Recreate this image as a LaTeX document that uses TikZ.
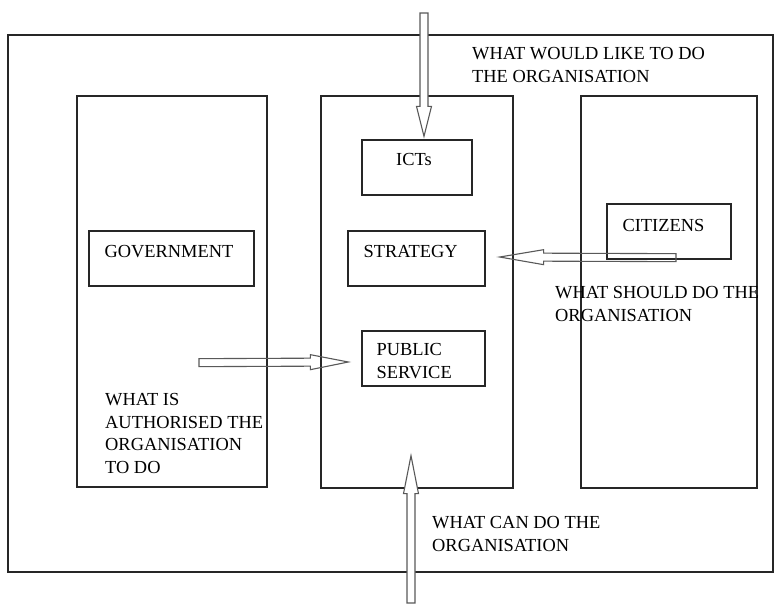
\documentclass[tikz,border=0pt]{standalone}
\usepackage{fontspec}
\setmainfont{Liberation Serif}
\usetikzlibrary{calc}
\tikzset{
  box/.style={draw=black!85, line width=1.3pt, inner sep=0pt},
  lbl/.style={inner sep=0pt, anchor=north west, align=left, font=\fontsize{18.4}{22.8}\selectfont},
  harrowline/.style={draw=black!65, line width=1.1pt, line join=miter},
}
\newcommand{\hollowarrow}[4]{%
  \coordinate (hb) at ($(#3)!#4!(#2)$);
  \draw[harrowline,#1] ($(#2)!4pt!90:(#3)$) -- ($(hb)!4pt!90:(#3)$) -- ($(hb)!7.5pt!90:(#3)$) -- (#3)
    -- ($(hb)!7.5pt!-90:(#3)$) -- ($(hb)!4pt!-90:(#3)$) -- ($(#2)!4pt!-90:(#3)$) -- cycle;
}
\begin{document}
\begin{tikzpicture}[x=1pt,y=-1pt]
\useasboundingbox (0,0) rectangle (774,603);
% frames
\node[box, minimum width=765pt, minimum height=537pt] (outer) at (390.5,303.5) {};
\node[box, minimum width=190pt, minimum height=391pt] (leftcol) at (172,291.5) {};
\node[box, minimum width=192pt, minimum height=392pt] (midcol) at (417,292) {};
\node[box, minimum width=176pt, minimum height=392pt] (rightcol) at (669,292) {};
% inner boxes
\node[box, minimum width=110pt, minimum height=55pt] (icts) at (417,167.5) {};
\node[box, minimum width=165pt, minimum height=55pt] (gov) at (171.5,258.5) {};
\node[box, minimum width=137pt, minimum height=55pt] (strat) at (416.5,258.5) {};
\node[box, minimum width=124pt, minimum height=55pt] (citizens) at (669,231.5) {};
\node[box, minimum width=123pt, minimum height=55pt] (public) at (423.5,358.5) {};
% box texts
\node[lbl, anchor=north] (ictst) at ($(icts.north)+(-3,14)$) {ICTs};
\node[lbl] (govt) at ($(gov.north west)+(16,15)$) {GOVERNMENT};
\node[lbl] (stratt) at ($(strat.north west)+(16,15)$) {STRATEGY};
\node[lbl] (citt) at ($(citizens.north west)+(16,16)$) {CITIZENS};
\node[lbl] (pubt) at ($(public.north west)+(15,13)$) {PUBLIC\\SERVICE};
% free labels
\node[lbl] (like) at (472,47) {WHAT WOULD LIKE TO DO\\THE ORGANISATION};
\node[lbl] (should) at (555,286) {WHAT SHOULD DO THE\\ORGANISATION};
\node[lbl] (auth) at (105,393) {WHAT IS\\AUTHORISED THE\\ORGANISATION\\TO DO};
\node[lbl] (can) at (432,516) {WHAT CAN DO THE\\ORGANISATION};
% arrow end points
\coordinate (topstart) at (424,13);
\coordinate (toptip) at ($(icts.north)+(7,-3)$);
\coordinate (citstart) at ($(citizens.south)+(7,-2)$);
\coordinate (cittip) at ($(strat.east)+(14,-1.5)$);
\coordinate (govstart) at ($(gov.south)+(27.5,76)$);
\coordinate (govtip) at ($(public.west)+(-13,3.5)$);
\coordinate (botstart) at (411,603);
\coordinate (bottip) at ($(midcol.south)+(-6,-33)$);
% arrows
\hollowarrow{fill=white}{topstart}{toptip}{30pt}
\hollowarrow{}{citstart}{cittip}{44pt}
\hollowarrow{}{govstart}{govtip}{38pt}
\hollowarrow{fill=white}{botstart}{bottip}{38pt}
\end{tikzpicture}
\end{document}
